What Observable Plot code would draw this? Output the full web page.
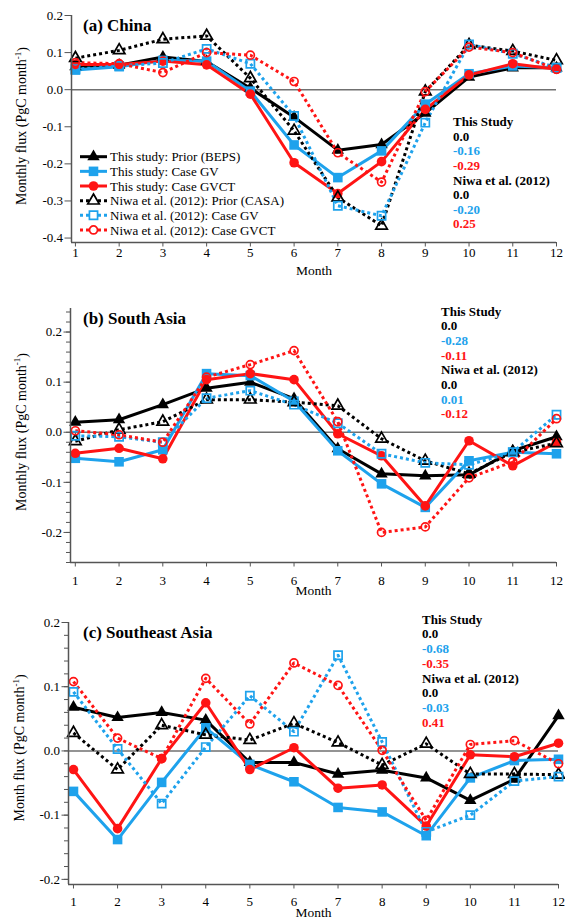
<!DOCTYPE html>
<html><head><meta charset="utf-8">
<script src="https://cdn.jsdelivr.net/npm/d3@7"></script>
<script src="https://cdn.jsdelivr.net/npm/@observablehq/plot@0.6"></script>
<style>
body{margin:0;background:#fff;}
#chart{width:565px;background:#fff;}
#chart svg{display:block;}
#chart svg, #chart svg text, #chart svg tspan { font-family: "Liberation Serif", "Times New Roman", Times, serif !important; }
</style></head><body><div id="chart"></div>
<script>
// ---------- data ----------
const months = [1,2,3,4,5,6,7,8,9,10,11,12];
const seriesNames = [
  "This study: Prior (BEPS)", "This study: Case GV", "This study: Case GVCT",
  "Niwa et al. (2012): Prior (CASA)", "Niwa et al. (2012): Case GV", "Niwa et al. (2012): Case GVCT"
];
const panelTitles = ["(a) China", "(b) South Asia", "(c) Southeast Asia"];
const yLabels = ["Monthly flux (PgC month", "Monthly flux (PgC month", "Month flux (PgC month"];
const yLabelSup = "-1";
const xLabel = "Month";
const annoHeaders = ["This Study", "Niwa et al. (2012)"];

// (a) China
const chinaBEPS     = [0.062, 0.066, 0.088, 0.076, 0.004, -0.074, -0.163, -0.148, -0.063, 0.034, 0.059, 0.059];
const chinaGV       = [0.053, 0.062, 0.079, 0.077, -0.004, -0.149, -0.237, -0.165, -0.039, 0.043, 0.064, 0.059];
const chinaGVCT     = [0.068, 0.068, 0.077, 0.067, -0.012, -0.197, -0.280, -0.194, -0.053, 0.040, 0.070, 0.055];
const chinaCASA     = [0.085, 0.106, 0.136, 0.145, 0.031, -0.111, -0.291, -0.367, -0.005, 0.120, 0.104, 0.079];
const chinaNiwaGV   = [0.055, 0.064, 0.072, 0.110, 0.070, -0.071, -0.313, -0.340, -0.089, 0.122, 0.097, 0.059];
const chinaNiwaGVCT = [0.073, 0.070, 0.046, 0.100, 0.093, 0.022, -0.170, -0.249, -0.005, 0.115, 0.100, 0.055];
const chinaTotalsThis = ["0.0", "-0.16", "-0.29"];
const chinaTotalsNiwa = ["0.0", "-0.20", "0.25"];

// (b) South Asia
const saBEPS     = [0.020, 0.025, 0.055, 0.088, 0.100, 0.067, -0.033, -0.083, -0.087, -0.085, -0.037, -0.009];
const saGV       = [-0.052, -0.059, -0.035, 0.117, 0.113, 0.062, -0.037, -0.103, -0.150, -0.057, -0.040, -0.043];
const saGVCT     = [-0.042, -0.032, -0.053, 0.105, 0.117, 0.105, -0.003, -0.047, -0.147, -0.017, -0.067, -0.020];
const saCASA     = [-0.018, 0.005, 0.021, 0.065, 0.065, 0.060, 0.053, -0.013, -0.057, -0.083, -0.040, -0.022];
const saNiwaGV   = [-0.007, -0.009, -0.020, 0.068, 0.083, 0.055, 0.018, -0.043, -0.061, -0.065, -0.040, 0.035];
const saNiwaGVCT = [0.003, -0.005, -0.020, 0.110, 0.135, 0.163, 0.021, -0.200, -0.189, -0.091, -0.059, 0.027];
const saTotalsThis = ["0.0", "-0.28", "-0.11"];
const saTotalsNiwa = ["0.0", "0.01", "-0.12"];

// (c) Southeast Asia
const seaBEPS     = [0.068, 0.052, 0.060, 0.048, -0.018, -0.018, -0.036, -0.030, -0.042, -0.077, -0.044, 0.055];
const seaGV       = [-0.063, -0.138, -0.049, 0.036, -0.021, -0.048, -0.088, -0.095, -0.132, -0.042, -0.015, -0.013];
const seaGVCT     = [-0.029, -0.121, -0.012, 0.075, -0.029, 0.005, -0.058, -0.053, -0.117, -0.006, -0.009, 0.012];
const seaCASA     = [0.028, -0.029, 0.040, 0.025, 0.017, 0.043, 0.013, -0.022, 0.011, -0.036, -0.036, -0.037];
const seaNiwaGV   = [0.092, 0.003, -0.082, 0.006, 0.086, 0.030, 0.149, 0.014, -0.126, -0.100, -0.047, -0.040];
const seaNiwaGVCT = [0.108, 0.020, -0.012, 0.113, 0.042, 0.137, 0.102, 0.001, -0.108, 0.010, 0.016, -0.020];
const seaTotalsThis = ["0.0", "-0.68", "-0.35"];
const seaTotalsNiwa = ["0.0", "-0.03", "0.41"];

const yTicksA = [-0.4, -0.3, -0.2, -0.1, 0.0, 0.1, 0.2];
const yTicksBC = [-0.2, -0.1, 0.0, 0.1, 0.2];

// ---------- styles ----------
const BLUE = "#1ea2ec", RED = "#ff1414", BLACK = "#000";
const styles = [
  {color: BLACK, dash: null, symbol: "triangle", filled: true, r: 4.6},
  {color: BLUE,  dash: null, symbol: "square",   filled: true, r: 5.4},
  {color: RED,   dash: null, symbol: "circle",   filled: true, r: 4.8},
  {color: BLACK, dash: "3,3", symbol: "triangle", filled: false, r: 4.3},
  {color: BLUE,  dash: "3,3", symbol: "square",   filled: false, r: 4.6},
  {color: RED,   dash: "3,3", symbol: "circle",   filled: false, r: 4.0}
];
const annoColors = [BLACK, BLACK, BLUE, RED, BLACK, BLACK, BLUE, RED];
const FONT = "Liberation Serif, Times New Roman, serif";
const symbolMap = {triangle: d3.symbolTriangle, square: d3.symbolSquare, circle: d3.symbolCircle};

function range(a, b, s) { const out = []; for (let v = a; v <= b + 1e-9; v += s) out.push(+v.toFixed(3)); return out; }

const panels = [
  {series: [chinaBEPS, chinaGV, chinaGVCT, chinaCASA, chinaNiwaGV, chinaNiwaGVCT],
   totals: [chinaTotalsThis, chinaTotalsNiwa], title: panelTitles[0], ylab: yLabels[0],
   height: 300, mt: 15, mb: 58, ml: 71, mr: 9, xDomain: [0.91, 12], yDomain: [-0.412, 0.2],
   yTicks: yTicksA, minor: [], xPad: 1, ylabX: 21, ylabY: 126,
   titleY: 25, annoX: 453, annoY: 121.7, annoStep: 14.6, legend: true},
  {series: [saBEPS, saGV, saGVCT, saCASA, saNiwaGV, saNiwaGVCT],
   totals: [saTotalsThis, saTotalsNiwa], title: panelTitles[1], ylab: yLabels[1],
   height: 305, mt: 8, mb: 43, ml: 70, mr: 9, xDomain: [0.89, 12], yDomain: [-0.26, 0.247],
   yTicks: yTicksBC, minor: range(-0.26, 0.24, 0.02), xPad: 9, ylabX: 20.7, ylabY: 132,
   titleY: 18.3, annoX: 441, annoY: 11, annoStep: 14.7, legend: false},
  {series: [seaBEPS, seaGV, seaGVCT, seaCASA, seaNiwaGV, seaNiwaGVCT],
   totals: [seaTotalsThis, seaTotalsNiwa], title: panelTitles[2], ylab: yLabels[2],
   height: 315, mt: 17, mb: 36, ml: 68, mr: 7, xDomain: [0.887, 12], yDomain: [-0.208, 0.2],
   yTicks: yTicksBC, minor: range(-0.2, 0.2, 0.02), xPad: 8, ylabX: 19, ylabY: 143,
   titleY: 26.7, annoX: 422, annoY: 14, annoStep: 14.75, legend: false}
];

function makePanel(p) {
  const rows = [];
  p.series.forEach((vals, i) => vals.forEach((v, j) => rows.push({month: months[j], value: v, s: i})));
  const marks = [];
  marks.push(Plot.ruleY([0], {stroke: "#707070", strokeWidth: 1.5}));
  styles.forEach((st, i) => {
    const d = rows.filter(r => r.s === i);
    marks.push(Plot.line(d, {x: "month", y: "value", stroke: st.color, strokeWidth: 3,
      strokeDasharray: st.dash, strokeLinecap: st.dash ? "butt" : "round", strokeLinejoin: "round"}));
  });
  styles.forEach((st, i) => {
    const d = rows.filter(r => r.s === i);
    marks.push(Plot.dot(d, {x: "month", y: "value", symbol: st.symbol, r: st.r,
      fill: st.filled ? st.color : "none", stroke: st.filled ? "none" : st.color,
      strokeWidth: st.filled ? 0 : 1.7}));
  });
  if (p.minor.length) marks.push(Plot.axisY(p.minor, {tickSize: 4, tickFormat: () => "", stroke: "#555", label: null}));
  marks.push(Plot.axisY(p.yTicks, {tickSize: 6.5, tickPadding: 2, tickFormat: d => d.toFixed(1),
    stroke: "#555", fill: "black", fontSize: 13, label: null}));
  marks.push(Plot.axisX(months, {tickSize: 4.5, tickPadding: p.xPad, tickFormat: d => String(d),
    stroke: "#555", fill: "black", fontSize: 13, label: null}));
  marks.push(Plot.ruleX([p.xDomain[0]], {stroke: "#555", strokeWidth: 1.5}));
  marks.push(Plot.ruleY([p.yDomain[0]], {stroke: "#555", strokeWidth: 1.5}));
  marks.push(Plot.text([xLabel], {text: d => d, frameAnchor: "bottom", dy: 32.5, fontSize: 13.5, fill: "black"}));

  const svg = Plot.plot({
    width: 565, height: p.height,
    marginTop: p.mt, marginBottom: p.mb, marginLeft: p.ml, marginRight: p.mr,
    x: {domain: p.xDomain}, y: {domain: p.yDomain},
    style: {background: "white", overflow: "visible"},
    marks
  });

  const g = d3.select(svg).append("g");
  // title
  g.append("text").attr("x", 83).attr("y", p.titleY).attr("dy", "0.35em").attr("text-anchor", "start")
    .attr("font-size", 17).attr("font-weight", "bold").attr("fill", "black").text(p.title);
  // y label
  const yl = g.append("text").attr("transform", `translate(${p.ylabX},${p.ylabY}) rotate(-90)`)
    .attr("text-anchor", "middle").attr("dy", "0.35em").attr("font-size", 14).attr("fill", "black");
  yl.append("tspan").text(p.ylab);
  yl.append("tspan").attr("font-size", 9).attr("dy", "-0.6em").text(yLabelSup);
  yl.append("tspan").attr("dy", "0.45em").text(")");
  // annotations
  const annoRows = [annoHeaders[0], ...p.totals[0], annoHeaders[1], ...p.totals[1]];
  annoRows.forEach((t, i) => {
    g.append("text").attr("x", p.annoX).attr("y", p.annoY + i * p.annoStep).attr("dy", "0.35em")
      .attr("text-anchor", "start")
      .attr("font-size", 13).attr("font-weight", "bold").attr("fill", annoColors[i]).text(t);
  });
  // legend
  if (p.legend) {
    seriesNames.forEach((name, i) => {
      const st = styles[i];
      const y = 156.7 + i * 14.65;
      g.append("line").attr("x1", 80).attr("x2", 107).attr("y1", y).attr("y2", y)
        .attr("stroke", st.color).attr("stroke-width", 3)
        .attr("stroke-dasharray", st.dash).attr("stroke-linecap", "butt");
      g.append("path").attr("transform", `translate(93.5,${y})`)
        .attr("d", d3.symbol(symbolMap[st.symbol], Math.PI * st.r * st.r)())
        .attr("fill", st.filled ? st.color : "white").attr("stroke", st.filled ? "none" : st.color)
        .attr("stroke-width", st.filled ? 0 : 1.7);
      g.append("text").attr("x", 110).attr("y", y).attr("dy", "0.35em").attr("text-anchor", "start")
        .attr("font-size", 13).attr("fill", "black").text(name);
    });
  }
  d3.select(svg).attr("font-family", FONT);
  d3.select(svg).selectAll("text").attr("font-family", FONT);
  return svg;
}

const chart = document.getElementById("chart");
panels.forEach(p => chart.appendChild(makePanel(p)));
</script>
</body></html>
